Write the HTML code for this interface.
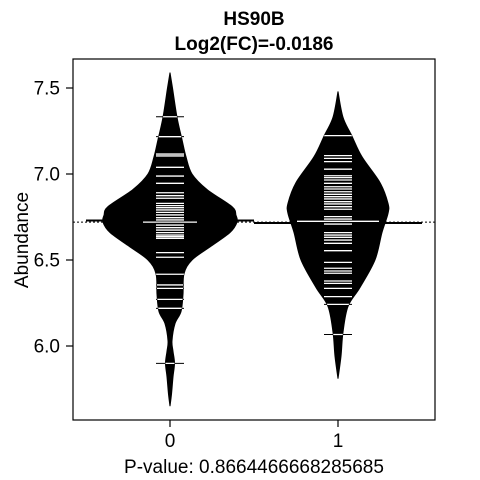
<!DOCTYPE html>
<html><head><meta charset="utf-8"><style>
body{margin:0;background:#fff;}
svg{display:block;font-family:"Liberation Sans",Arial,sans-serif;}
</style></head><body>
<svg id="chart" width="480" height="480" viewBox="0 0 480 480">
<rect x="0" y="0" width="480" height="480" fill="#fff"/>
<text x="254" y="25" text-anchor="middle" font-size="19" font-weight="bold">HS90B</text>
<text x="254" y="50" text-anchor="middle" font-size="19" font-weight="bold">Log2(FC)=-0.0186</text>
<g id="plot"></g>
<rect x="73" y="59" width="362" height="361" fill="none" stroke="#000" stroke-width="1.2"/>
<text transform="translate(28,240) rotate(-90)" text-anchor="middle" font-size="19">Abundance</text>
<text x="254" y="473" text-anchor="middle" font-size="19">P-value: 0.8664466668285685</text>
</svg>
<script>
const categories = ["0", "1"];
const yTicks = [6.0, 6.5, 7.0, 7.5];
const yTickLabels = ["6.0", "6.5", "7.0", "7.5"];
const densityValues0 = [7.59,7.5,7.33,7.2,7.1,7.0,6.91,6.81,6.76,6.72,6.66,6.58,6.5,6.42,6.3,6.2,6.13,6.03,5.97,5.9,5.82,5.72,5.65];
const densityWidths0 = [0,2.5,7,12,16,22,37,62,66,67,60,41,22,14,13,11,5,2,3,4.5,3,1.5,0];
const densityValues1 = [7.48,7.33,7.22,7.1,6.95,6.83,6.77,6.66,6.5,6.34,6.23,6.08,5.94,5.81];
const densityWidths1 = [0,5,14,24,42,50,50,44,37,22,10,5,3,0];
const points0 = [7.333,7.217,7.116,7.105,7.039,6.988,6.946,6.891,6.874,6.859,6.829,6.816,6.804,6.791,6.777,6.762,6.746,6.733,6.703,6.688,6.674,6.659,6.645,6.636,6.626,6.543,6.516,6.417,6.355,6.335,6.271,6.219,5.899];
const points1 = [7.223,7.107,7.091,7.072,7.028,6.990,6.979,6.965,6.946,6.926,6.913,6.897,6.882,6.868,6.855,6.839,6.826,6.810,6.795,6.752,6.738,6.709,6.659,6.645,6.632,6.616,6.597,6.554,6.486,6.452,6.436,6.423,6.378,6.364,6.335,6.287,6.242,6.067];
const medians = [6.72, 6.725];
const means = [6.73, 6.715];
const overallMean = 6.72;

const NS="http://www.w3.org/2000/svg";
const g=document.getElementById('plot');
const svg=document.getElementById('chart');
const xOf=i=>170+i*168;
const yOf=v=>174-(v-7)*172;
function el(t,a){const e=document.createElementNS(NS,t);for(const k in a)e.setAttribute(k,a[k]);return e;}

yTicks.forEach((v,i)=>{
  const t=el('line',{x1:66,x2:73,y1:yOf(v),y2:yOf(v),stroke:'#000','stroke-width':1.2});
  
  
  svg.appendChild(t);
  const l=el('text',{x:60,y:yOf(v)+6.5,'text-anchor':'end','font-size':19});
  
  
  l.textContent=yTickLabels[i];svg.appendChild(l);
});
categories.forEach((c,i)=>{
  const t=el('line',{x1:xOf(i),x2:xOf(i),y1:420,y2:427,stroke:'#000','stroke-width':1.2});
  
  
  svg.appendChild(t);
  const l=el('text',{x:xOf(i),y:447,'text-anchor':'middle','font-size':19});
  
  
  l.textContent=c;svg.appendChild(l);
});

const om=el('line',{x1:73,x2:435,y1:yOf(overallMean),y2:yOf(overallMean),stroke:'#000','stroke-width':1,'stroke-dasharray':'2,2'});


g.appendChild(om);

// Catmull-Rom smooth path through points
function smooth(pts){
  let d='M'+pts[0][0]+','+pts[0][1];
  for(let i=0;i<pts.length-1;i++){
    const p0=pts[Math.max(0,i-1)],p1=pts[i],p2=pts[i+1],p3=pts[Math.min(pts.length-1,i+2)];
    const c1=[p1[0]+(p2[0]-p0[0])/6,p1[1]+(p2[1]-p0[1])/6];
    const c2=[p2[0]-(p3[0]-p1[0])/6,p2[1]-(p3[1]-p1[1])/6];
    d+=' C'+c1[0]+','+c1[1]+' '+c2[0]+','+c2[1]+' '+p2[0]+','+p2[1];
  }
  return d;
}

const defs=el('defs',{});svg.insertBefore(defs,svg.firstChild);
const groups=[[densityValues0,densityWidths0,points0],[densityValues1,densityWidths1,points1]];
groups.forEach((grp,i)=>{
  const [vals,ws,pts]=grp;const cx=xOf(i);
  const ml=el('line',{x1:cx-84,x2:cx+84,y1:yOf(means[i]),y2:yOf(means[i]),stroke:'#000','stroke-width':2});
  
  
  g.appendChild(ml);
  const right=vals.map((v,k)=>[cx+ws[k],yOf(v)]);
  const left=vals.map((v,k)=>[cx-ws[k],yOf(v)]);
  const d=smooth(right)+' '+smooth(left.reverse()).replace(/^M/,'L')+' Z';
  const cp=el('clipPath',{id:'clip'+i});cp.appendChild(el('path',{d:d}));defs.appendChild(cp);
  const p=el('path',{d:d,fill:'#000',stroke:'#000','stroke-width':1});
  
  
  g.appendChild(p);
  pts.forEach(v=>{
    const b=el('line',{x1:cx-14,x2:cx+14,y1:yOf(v),y2:yOf(v),stroke:'#000','stroke-width':1});
    
    
    g.appendChild(b);
    const w=el('line',{x1:cx-14,x2:cx+14,y1:yOf(v),y2:yOf(v),stroke:'#fff','stroke-width':1.3,'clip-path':'url(#clip'+i+')'});
    
    
    g.appendChild(w);
  });
  const hw=i===0?27:41;
  const md=el('line',{x1:cx-hw,x2:cx+hw,y1:yOf(medians[i]),y2:yOf(medians[i]),stroke:'#fff','stroke-width':1.3});
  
  
  g.appendChild(md);
});
</script>
</body></html>
